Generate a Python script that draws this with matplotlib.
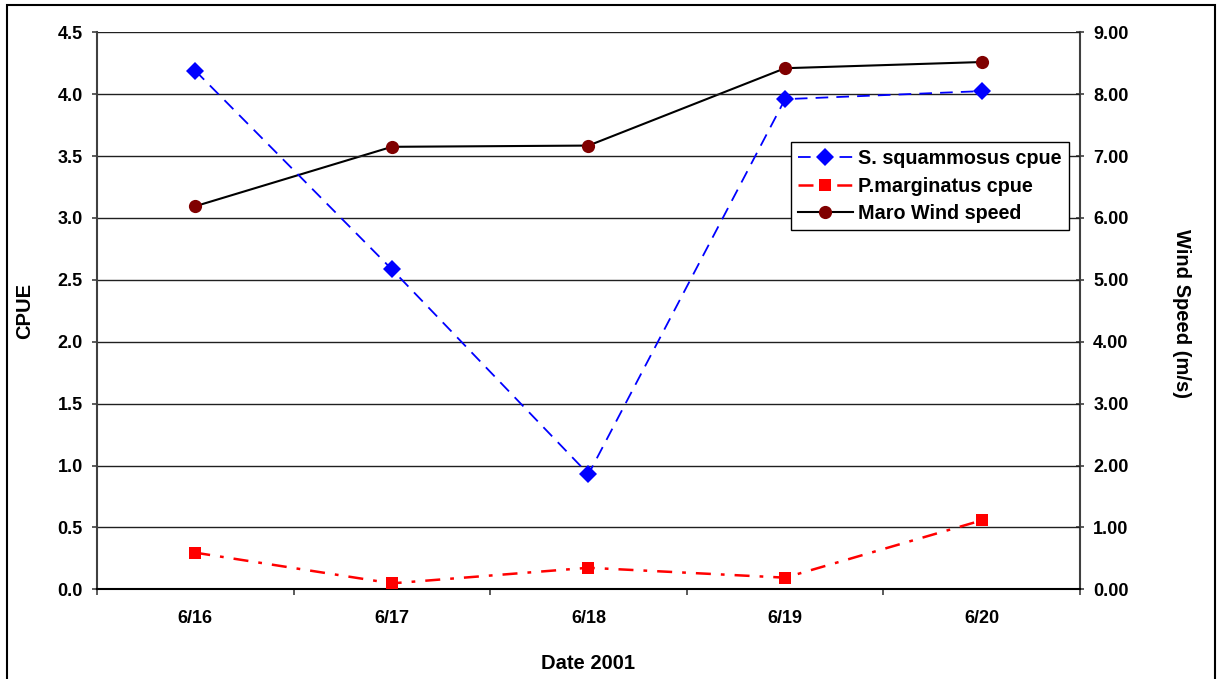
import numpy as np
import matplotlib.pyplot as plt
from matplotlib.patches import Rectangle
from matplotlib.ticker import FixedLocator, FuncFormatter

plt.rcParams['font.family'] = ['Liberation Sans', 'DejaVu Sans']
plt.rcParams['font.weight'] = 'bold'

# data
dates = ["6/16", "6/17", "6/18", "6/19", "6/20"]
s_squammosus = [4.19, 2.585, 0.93, 3.96, 4.025]
p_marginatus = [0.296, 0.048, 0.174, 0.094, 0.557]
wind_speed = [6.19, 7.15, 7.17, 8.42, 8.52]

x = np.arange(len(dates))

fig = plt.figure(figsize=(12.18, 6.79), dpi=100)
ax = fig.add_axes([0.0796, 0.1321, 0.8071, 0.8203])
ax2 = ax.twinx()

# outer chart frame (bottom edge falls outside the image)
fig.patches.append(Rectangle((7 / 1218, -0.02), 1208 / 1218, 1 - 5 / 679 + 0.02,
                             transform=fig.transFigure, fill=False,
                             edgecolor='black', linewidth=1.5, zorder=0))

# horizontal gridlines
for v in np.arange(0.5, 4.51, 0.5):
    ax.axhline(v, color='#202020', linewidth=1.0, zorder=1)

l1, = ax.plot(x, s_squammosus, color='#0000ff', linestyle=(0, (7, 4.5)), linewidth=1.3,
              marker='D', markersize=9, markeredgewidth=0, label='S. squammosus cpue', zorder=4)
l2, = ax.plot(x, p_marginatus, color='#ff0000', linestyle=(0, (6, 4, 1.5, 4)), linewidth=1.8,
              marker='s', markersize=9, markeredgewidth=0, label='P.marginatus cpue', zorder=4)
l3, = ax2.plot(x, wind_speed, color='black', linestyle='-', linewidth=1.5,
               marker='o', markersize=9.5, markerfacecolor='#800000', markeredgewidth=0,
               label='Maro Wind speed', zorder=4)

ax.set_xlim(-0.5, len(dates) - 0.5)
ax.set_ylim(0, 4.5)
ax2.set_ylim(0, 9)

ax.set_yticks(np.arange(0, 4.51, 0.5))
ax.yaxis.set_major_formatter(FuncFormatter(lambda v, p: f"{v:.1f}"))
ax2.set_yticks(np.arange(0, 9.01, 1))
ax2.yaxis.set_major_formatter(FuncFormatter(lambda v, p: f"{v:.2f}"))

ax.set_xticks(x)
ax.set_xticklabels(dates)
ax.xaxis.set_minor_locator(FixedLocator(np.arange(-0.5, len(dates), 1.0)))
ax.tick_params(axis='x', which='major', length=0, pad=15, labelsize=13)
ax.tick_params(axis='x', which='minor', length=4, width=1.2, direction='out', color='#404040')
ax.tick_params(axis='y', length=3.6, width=1.2, direction='out', pad=6.5, labelsize=13, color='#404040')
ax2.tick_params(axis='y', length=6, width=1.2, direction='inout', pad=6.5, labelsize=13, color='#404040')

ax.spines['top'].set_visible(False)
ax2.spines['top'].set_visible(False)
ax2.spines['left'].set_visible(False)
ax2.spines['bottom'].set_visible(False)
ax.spines['right'].set_visible(False)
ax.spines['left'].set_color('#404040')
ax.spines['left'].set_linewidth(1.5)
ax2.spines['right'].set_color('#404040')
ax2.spines['right'].set_linewidth(1.5)
ax.spines['bottom'].set_color('black')
ax.spines['bottom'].set_linewidth(1.5)

ax.set_ylabel("CPUE", fontsize=14.5, fontweight='bold', va='center')
ax.yaxis.set_label_coords(-0.0732, 0.5)
ax2.set_ylabel("Wind Speed (m/s)", fontsize=14.5, fontweight='bold', rotation=-90, va='center')
ax2.yaxis.set_label_coords(1.1035, 0.495)
ax.set_xlabel("Date 2001", fontsize=14.5, fontweight='bold', va='center')
ax.xaxis.set_label_coords(0.5, -0.1325)

ax.set_zorder(ax2.get_zorder() + 1)
ax.patch.set_visible(False)

leg = ax.legend(handles=[l1, l2, l3], loc='upper left', bbox_to_anchor=(0.706, 0.803),
                fontsize=14.2, frameon=True, fancybox=False, shadow=False,
                handlelength=2.75, handletextpad=0.3, borderpad=0.37, labelspacing=0.42,
                borderaxespad=0)
leg.get_frame().set_edgecolor('black')
leg.get_frame().set_linewidth(1.0)
leg.get_frame().set_alpha(1)

fig.savefig("out.png", dpi=100)
